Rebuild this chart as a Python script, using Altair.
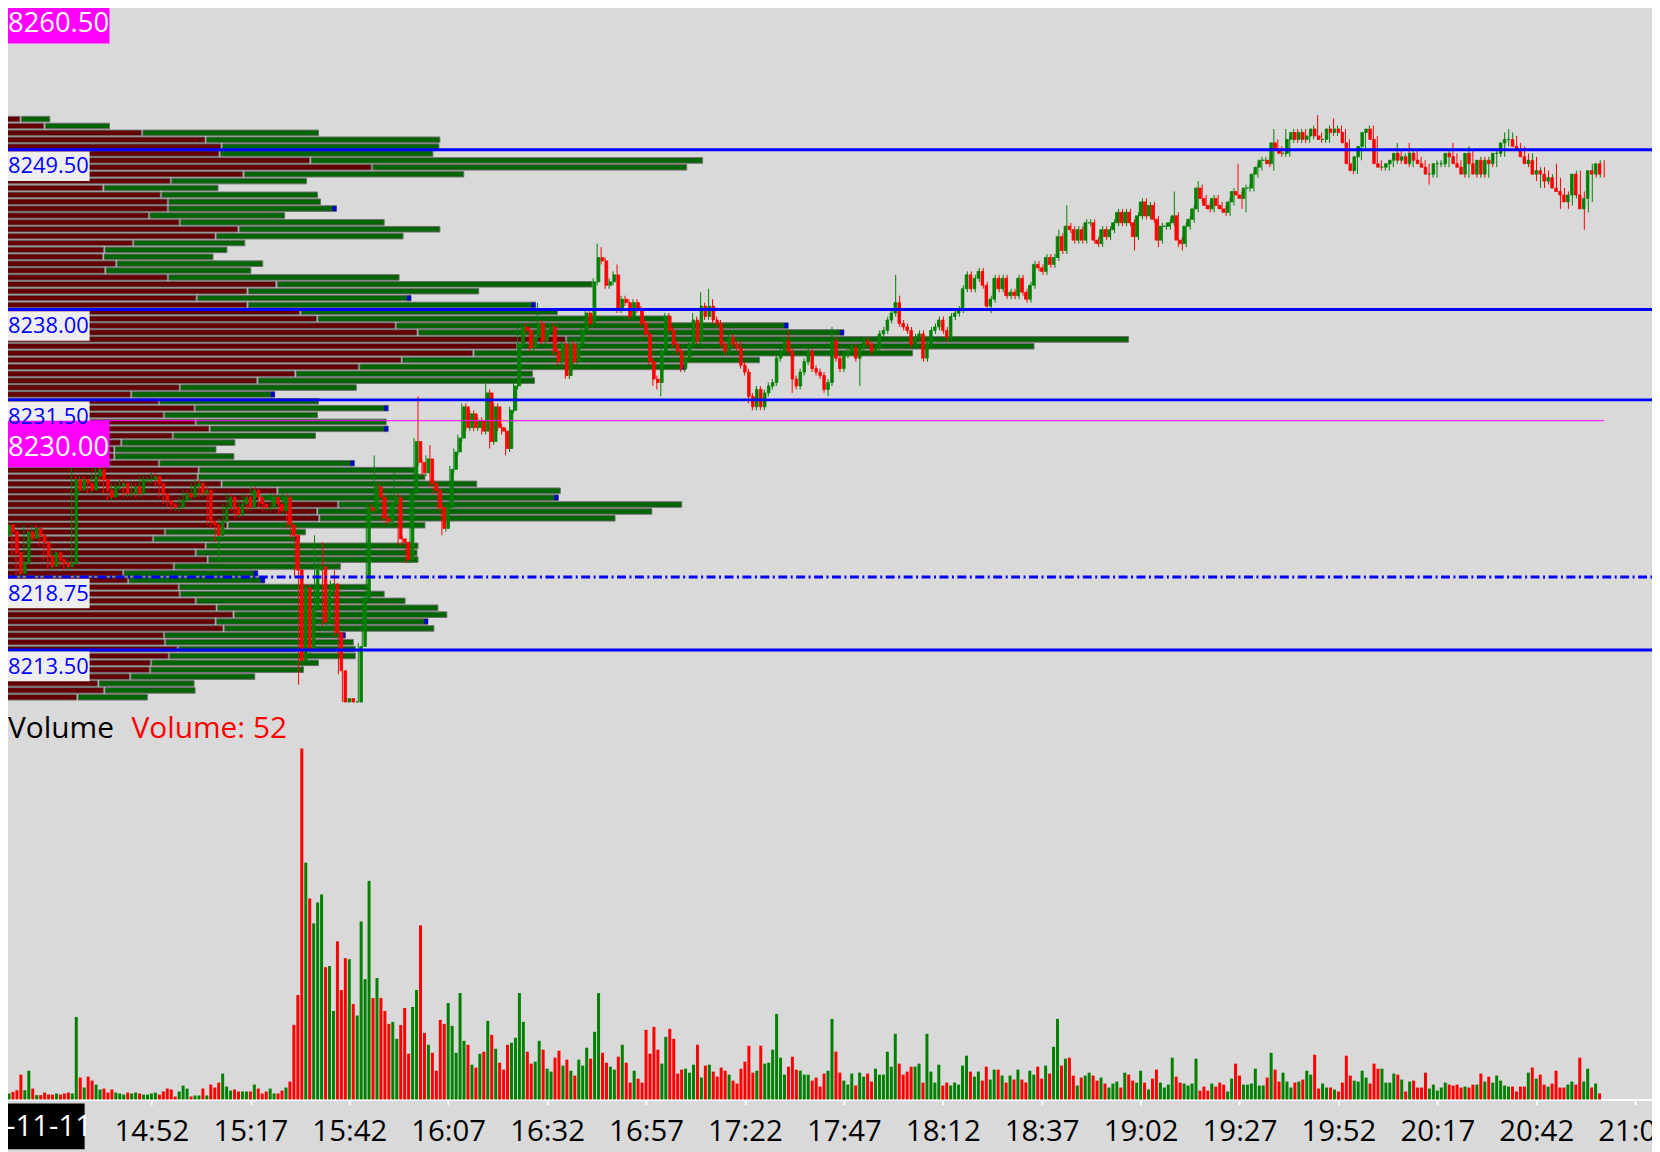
import altair as alt
import pandas as pd

# ---------------- data ----------------
FIRST_BAR_MIN = 856          # 14:16, one-minute bars
TICK = 0.25
OPEN0 = 8221.75

CLOSE = [
    8222.5, 8222.0, 8220.5, 8219.0, 8219.75, 8222.0, 8221.5, 8222.25, 8221.75, 8221.25,
    8220.25, 8219.5, 8220.5, 8220.0, 8219.75, 8219.5, 8219.75, 8225.75, 8225.0, 8225.75,
    8225.5, 8225.0, 8226.0, 8226.5, 8225.75, 8225.0, 8224.5, 8225.25, 8225.25, 8225.5,
    8224.75, 8224.75, 8225.25, 8224.75, 8225.75, 8225.75, 8225.75, 8226.0, 8225.5, 8224.75,
    8224.25, 8224.0, 8223.75, 8223.75, 8224.25, 8224.75, 8224.5, 8225.25, 8225.5, 8224.75,
    8225.0, 8222.75, 8222.5, 8221.75, 8222.75, 8223.75, 8224.5, 8223.75, 8223.25, 8224.0,
    8224.5, 8223.75, 8225.0, 8224.5, 8224.0, 8223.75, 8223.75, 8224.5, 8224.0, 8223.5,
    8224.5, 8222.5, 8221.75, 8219.25, 8212.75, 8218.0, 8213.5, 8216.5, 8219.25, 8219.5,
    8215.5, 8217.75, 8218.25, 8214.75, 8212.0, 8209.75, 8210.0, 8209.75, 8209.75, 8213.75,
    8217.25, 8223.75, 8223.5, 8225.25, 8224.5, 8223.0, 8222.75, 8224.0, 8224.5, 8221.5,
    8221.25, 8220.0, 8224.75, 8228.5, 8227.0, 8226.25, 8227.25, 8225.5, 8225.0, 8223.75,
    8222.25, 8223.75, 8226.5, 8227.75, 8228.75, 8231.0, 8229.5, 8230.5, 8229.5, 8230.0,
    8229.25, 8232.0, 8228.5, 8231.0, 8229.5, 8229.25, 8228.0, 8230.75, 8232.5, 8235.5,
    8236.75, 8236.5, 8235.25, 8236.0, 8237.0, 8235.75, 8236.5, 8236.75, 8235.0, 8234.25,
    8235.5, 8233.25, 8235.5, 8234.25, 8235.5, 8236.5, 8237.75, 8237.0, 8240.0, 8241.75,
    8241.5, 8239.75, 8240.0, 8240.5, 8238.0, 8238.75, 8238.5, 8237.5, 8238.5, 8238.0,
    8237.0, 8236.25, 8234.25, 8233.0, 8232.75, 8235.0, 8237.5, 8236.5, 8235.5, 8235.0,
    8233.75, 8234.5, 8235.5, 8237.25, 8235.75, 8238.25, 8237.5, 8238.25, 8237.25, 8237.0,
    8235.5, 8235.0, 8236.0, 8235.5, 8235.25, 8234.0, 8233.5, 8231.75, 8231.0, 8232.25,
    8231.0, 8232.0, 8232.5, 8232.75, 8234.5, 8235.0, 8235.75, 8235.0, 8233.0, 8232.5,
    8233.5, 8234.25, 8235.0, 8233.75, 8233.5, 8233.25, 8232.25, 8232.75, 8235.75, 8234.5,
    8233.75, 8234.75, 8235.0, 8235.25, 8234.5, 8235.25, 8235.75, 8235.5, 8235.0, 8235.25,
    8236.25, 8236.5, 8237.25, 8237.75, 8238.5, 8237.0, 8236.75, 8236.5, 8235.5, 8236.0,
    8236.25, 8234.5, 8235.5, 8236.5, 8236.75, 8237.25, 8236.5, 8236.0, 8237.5, 8237.75,
    8238.0, 8239.5, 8240.5, 8239.5, 8240.25, 8240.75, 8239.75, 8238.25, 8238.75, 8240.25,
    8239.5, 8240.25, 8239.0, 8239.25, 8239.0, 8240.25, 8239.25, 8238.75, 8239.75, 8241.25,
    8241.0, 8240.75, 8241.75, 8241.25, 8241.75, 8243.25, 8242.25, 8244.0, 8243.75, 8243.0,
    8243.75, 8243.0, 8244.25, 8244.25, 8243.0, 8242.75, 8243.75, 8243.25, 8243.75, 8244.25,
    8245.0, 8244.25, 8245.0, 8244.25, 8243.25, 8244.75, 8245.75, 8244.75, 8245.5, 8244.5,
    8243.0, 8244.0, 8244.0, 8244.25, 8244.75, 8243.0, 8242.75, 8244.0, 8244.5, 8245.25,
    8246.75, 8246.0, 8245.5, 8245.25, 8246.0, 8245.5, 8245.25, 8245.0, 8245.75, 8246.5,
    8246.25, 8246.0, 8246.75, 8246.75, 8247.75, 8248.25, 8248.75, 8248.75, 8248.5, 8250.0,
    8249.5, 8249.25, 8249.25, 8250.25, 8250.75, 8250.25, 8250.75, 8250.25, 8250.5, 8251.0,
    8250.5, 8250.25, 8250.25, 8251.0, 8250.75, 8251.0, 8250.75, 8250.0, 8248.5, 8248.0,
    8249.0, 8249.75, 8250.75, 8251.0, 8250.25, 8248.5, 8248.25, 8248.25, 8248.5, 8248.75,
    8249.25, 8248.75, 8249.0, 8248.5, 8249.25, 8248.75, 8248.5, 8248.25, 8247.75, 8247.75,
    8248.5, 8248.5, 8248.5, 8249.25, 8249.0, 8248.5, 8248.25, 8247.75, 8249.25, 8248.5,
    8247.75, 8248.75, 8247.75, 8248.75, 8248.5, 8249.25, 8249.25, 8250.0, 8250.25, 8250.25,
    8249.75, 8249.5, 8249.0, 8248.5, 8248.75, 8247.75, 8248.0, 8247.75, 8247.25, 8247.5,
    8246.75, 8246.5, 8246.25, 8245.75, 8246.25, 8247.75, 8246.25, 8245.25, 8246.0, 8248.0,
    8247.75, 8248.5, 8247.75,
]

UPPER_WICK_TICKS = [
    2,1,1,1,1,2,1,1,1,1, 1,1,1,1,1,1,1,4,1,1,
    1,1,1,1,1,1,1,1,1,1, 1,1,1,1,1,1,1,1,1,1,
    1,1,1,1,1,1,1,1,1,1, 1,1,1,1,1,1,1,1,1,1,
    1,1,1,1,1,1,1,1,1,1, 1,1,1,1,1,2,1,1,10,1,
    7,1,1,4,1,0,0,0,0,1, 1,1,1,9,1,1,1,3,7,1,
    1,1,1,1,13,1,1,4,1,1, 1,1,1,1,1,1,1,1,1,1,
    1,3,1,1,1,1,1,1,1,5, 1,1,1,1,6,1,1,1,1,1,
    1,1,1,1,1,1,1,1,1,4, 3,1,1,1,3,1,1,1,1,1,
    1,1,1,1,1,1,1,1,1,1, 1,1,1,2,1,4,1,5,2,1,
    1,1,1,1,1,2,1,1,1,1, 1,1,1,1,1,1,1,3,1,1,
    1,1,1,1,1,1,1,1,4,1, 1,1,1,1,1,1,1,1,1,1,
    1,1,1,1,8,2,1,1,1,1, 1,1,1,1,1,1,1,1,1,1,
    1,1,1,1,1,1,1,1,1,1, 1,1,1,1,1,1,1,1,1,1,
    1,1,1,1,1,2,1,6,1,1, 1,1,1,1,1,1,1,1,1,1,
    1,1,1,1,1,1,1,1,1,1, 1,1,1,1,7,1,1,1,1,1,
    2,1,1,1,1,1,1,1,1,1, 8,1,1,1,1,1,1,1,1,4,
    1,1,7,1,1,1,1,1,1,1, 4,1,1,1,3,1,1,1,1,1,
    1,1,1,1,1,1,1,1,1,1, 3,1,1,4,1,1,1,1,1,1,
    1,1,1,1,3,1,1,1,2,1, 1,1,1,1,1,1,1,3,3,2,
    1,1,1,1,2,1,1,1,1,1, 4,3,1,1,1,1,1,1,1,2,
    1,1,1,
]

LOWER_WICK_TICKS = [
    0,1,1,1,1,1,1,1,1,1, 1,1,1,1,1,1,1,1,1,1,
    1,1,1,1,1,1,1,1,1,1, 1,1,1,1,1,1,1,1,1,1,
    1,1,1,1,1,1,1,1,1,1, 1,1,1,2,8,1,1,1,1,1,
    1,1,1,1,1,1,1,1,1,1, 1,1,1,2,7,2,2,1,1,1,
    1,1,1,1,1,0,0,0,0,0, 1,1,1,1,1,1,1,1,1,2,
    1,1,1,1,1,1,1,1,1,1, 2,1,1,1,1,1,1,1,1,1,
    1,1,2,1,1,1,2,1,1,1, 1,1,1,1,1,1,1,1,1,1,
    1,1,1,1,1,1,1,1,1,1, 1,1,1,1,1,1,1,1,1,1,
    1,1,1,2,2,4,1,1,1,1, 1,1,1,1,1,1,1,1,1,1,
    1,1,1,1,1,1,1,2,1,1, 1,1,1,1,1,1,1,1,4,1,
    1,1,1,1,1,1,1,2,1,1, 1,1,1,1,1,8,1,1,1,1,
    1,1,1,1,1,1,1,1,1,1, 1,1,1,1,1,1,1,1,1,1,
    1,1,1,1,1,1,1,1,2,1, 1,1,1,1,1,1,1,1,1,1,
    1,1,1,1,1,1,1,1,1,1, 1,1,1,1,1,1,1,1,1,1,
    1,1,1,1,4,1,1,1,1,1, 2,1,1,1,1,2,2,1,1,1,
    1,1,1,1,1,1,1,1,1,1, 1,3,4,1,1,1,1,1,1,2,
    1,1,1,1,1,1,1,1,1,1, 1,1,1,1,1,1,1,1,1,1,
    1,1,1,1,1,1,1,1,1,1, 1,1,1,1,1,1,1,1,3,1,
    1,1,1,1,1,1,1,1,1,1, 1,1,1,1,1,1,1,1,1,1,
    1,1,2,1,3,2,4,4,1,1, 1,5,2,2,1,1,1,6,1,1,
    1,1,1,
]

VOLUME = [
    51, 65, 79, 212, 79, 246, 93, 37, 37, 59,
    42, 42, 51, 42, 51, 59, 51, 705, 187, 102,
    195, 161, 127, 85, 93, 59, 85, 59, 51, 42,
    59, 51, 59, 51, 42, 42, 51, 59, 42, 68,
    93, 85, 25, 68, 119, 93, 25, 34, 34, 93,
    34, 127, 102, 144, 221, 110, 76, 85, 68, 68,
    68, 68, 127, 93, 51, 68, 93, 51, 51, 76,
    102, 153, 637, 892, 2997, 2023, 1717, 1504, 1683, 1751,
    1130, 1139, 756, 1351, 935, 1207, 1198, 816, 717, 1521,
    1028, 1867, 867, 1037, 867, 756, 646, 663, 518, 637,
    782, 391, 790, 935, 1487, 569, 467, 399, 246, 680,
    646, 824, 629, 399, 909, 501, 467, 297, 272, 391,
    408, 671, 552, 433, 314, 255, 467, 484, 527, 909,
    663, 408, 306, 323, 501, 425, 263, 238, 357, 416,
    289, 340, 246, 204, 340, 289, 442, 348, 578, 909,
    399, 314, 280, 255, 365, 467, 314, 144, 246, 178,
    144, 595, 391, 620, 425, 306, 535, 603, 518, 221,
    255, 263, 229, 297, 467, 187, 289, 297, 238, 195,
    272, 246, 212, 161, 136, 263, 323, 459, 229, 246,
    459, 306, 314, 425, 731, 357, 212, 280, 365, 255,
    246, 212, 212, 161, 187, 110, 221, 246, 688, 408,
    229, 161, 127, 221, 119, 229, 195, 221, 153, 263,
    212, 212, 408, 280, 561, 306, 212, 238, 280, 280,
    306, 144, 561, 238, 144, 297, 119, 144, 119, 144,
    127, 289, 374, 238, 195, 238, 161, 280, 170, 255,
    255, 204, 144, 204, 170, 255, 170, 144, 246, 212,
    280, 178, 289, 221, 450, 688, 289, 348, 357, 204,
    119, 187, 204, 229, 204, 161, 187, 136, 102, 136,
    153, 102, 229, 212, 161, 144, 246, 144, 85, 178,
    255, 144, 102, 127, 357, 195, 144, 136, 119, 136,
    348, 76, 110, 76, 136, 110, 144, 127, 68, 178,
    306, 204, 127, 127, 136, 263, 119, 119, 187, 399,
    255, 153, 229, 153, 102, 144, 153, 170, 246, 212,
    382, 93, 136, 102, 102, 85, 68, 144, 374, 204,
    161, 153, 246, 187, 136, 306, 263, 263, 144, 144,
    221, 212, 170, 68, 153, 161, 102, 102, 229, 93,
    127, 76, 102, 144, 127, 119, 127, 102, 110, 102,
    127, 127, 221, 153, 195, 144, 204, 161, 119, 110,
    110, 68, 110, 110, 229, 272, 178, 212, 127, 110,
    136, 246, 102, 102, 127, 153, 127, 357, 153, 263,
    102, 136, 52,
]

# volume profile, one row per 0.5 point from the top price down
PROFILE_TOP = 8252.0
PROFILE_STEP = 0.5
PROFILE_SELL = [
    17, 41, 139, 203, 219, 217, 308, 370, 241, 168,
    100, 158, 165, 165, 146, 177, 236, 213, 130, 101,
    100, 113, 102, 165, 274, 245, 194, 245, 298, 315,
    394, 416, 565, 516, 472, 400, 357, 293, 255, 177,
    128, 156, 192, 161, 193, 207, 170, 118, 111, 111,
    156, 196, 195, 219, 275, 257, 336, 315, 317, 225,
    162, 150, 203, 193, 205, 171, 120, 125, 176, 177,
    193, 214, 231, 213, 221, 161, 162, 175, 166, 148,
    147, 127, 95, 101, 74,
]
PROFILE_BUY = [
    30, 66, 178, 236, 219, 215, 395, 317, 222, 137,
    116, 158, 154, 170, 137, 206, 203, 189, 113, 124,
    111, 148, 147, 233, 318, 233, 216, 290, 259, 356,
    395, 429, 566, 520, 442, 360, 329, 239, 279, 178,
    145, 161, 195, 155, 192, 180, 144, 115, 103, 121,
    197, 218, 229, 257, 285, 301, 346, 337, 298, 199,
    142, 148, 214, 223, 212, 168, 136, 138, 191, 206,
    211, 223, 215, 214, 212, 183, 190, 179, 188, 169,
    155, 126, 97, 92, 71,
]
PROFILE_MARKERS = [8245.5, 8239.0, 8238.5, 8237.0, 8236.5, 8234.0, 8232.0, 8231.0,
                   8229.5, 8227.0, 8224.5, 8221.5, 8219.0, 8218.5, 8215.5, 8214.5]

LEVELS = [8249.5, 8238.0, 8231.5, 8213.5]
DASH_LEVEL = 8218.75
REF_PRICE = 8230.0
HIGH_TAG = 8260.5
AXIS_TIMES = [892, 917, 942, 967, 992, 1017, 1042, 1067, 1092, 1117,
              1142, 1167, 1192, 1217, 1242, 1267]
DATE_TEXT = "-11-11"

n = len(CLOSE)
assert len(UPPER_WICK_TICKS) == n, len(UPPER_WICK_TICKS)
assert len(LOWER_WICK_TICKS) == n, len(LOWER_WICK_TICKS)
assert len(VOLUME) == n, len(VOLUME)
assert len(PROFILE_SELL) == len(PROFILE_BUY)

# ---------------- tables ----------------
opens = [OPEN0] + CLOSE[:-1]
bars = pd.DataFrame({
    "t": [FIRST_BAR_MIN + i for i in range(n)],
    "open": opens,
    "close": CLOSE,
    "high": [max(o, c) + u * TICK for o, c, u in zip(opens, CLOSE, UPPER_WICK_TICKS)],
    "low": [min(o, c) - d * TICK for o, c, d in zip(opens, CLOSE, LOWER_WICK_TICKS)],
    "volume": VOLUME,
    "dir": ["up" if c >= o else "down" for o, c in zip(opens, CLOSE)],
})

prof = pd.DataFrame({
    "price": [PROFILE_TOP - PROFILE_STEP * k for k in range(len(PROFILE_SELL))],
    "sell": PROFILE_SELL,
    "buy": PROFILE_BUY,
})
prof["s0"] = 0
prof["b0"] = prof["sell"] + 1.5
prof["b1"] = prof["sell"] + prof["buy"]
prof["m0"] = prof["b1"] - 4
prof["marker"] = prof["price"].isin(PROFILE_MARKERS)

level_labels = pd.DataFrame({
    "price": LEVELS + [DASH_LEVEL],
    "text": [f"{p:.2f}" for p in LEVELS + [DASH_LEVEL]],
})
tags = pd.DataFrame({"price": [HIGH_TAG, REF_PRICE],
                     "text": [f"{HIGH_TAG:.2f}", f"{REF_PRICE:.2f}"]})
ref_line = pd.DataFrame({"price": [REF_PRICE], "x0": [FIRST_BAR_MIN],
                         "x1": [FIRST_BAR_MIN + n - 1]})

# ---------------- scales ----------------
W, H = 1652, 1094
time_scale = alt.Scale(domain=[857, 1270], nice=False, zero=False)
price_scale = alt.Scale(domain=[8181.14, 8259.51], nice=False, zero=False)
vol_scale = alt.Scale(domain=[0, 9299], nice=False, zero=False)
prof_scale = alt.Scale(domain=[5, 1657], nice=False, zero=False)
dir_scale = alt.Scale(domain=["up", "down"], range=["#008000", "#ff0000"])
FONT = "Open Sans"

P = lambda f: alt.Y(f, scale=price_scale, axis=None)

sell_bars = alt.Chart(prof).mark_bar(
    orient="horizontal", size=5.6, fill="#650000", stroke="#6e6e6e", strokeWidth=1
).encode(x=alt.X("s0:Q", scale=prof_scale, axis=None), x2="sell:Q", y=P("price:Q"))

buy_bars = alt.Chart(prof).mark_bar(
    orient="horizontal", size=5.6, fill="#006400", stroke="#6e6e6e", strokeWidth=1
).encode(x=alt.X("b0:Q", scale=prof_scale, axis=None), x2="b1:Q", y=P("price:Q"))

markers = alt.Chart(prof).transform_filter("datum.marker").mark_bar(
    orient="horizontal", size=5, fill="#0000cc"
).encode(x=alt.X("m0:Q", scale=prof_scale, axis=None), x2="b1:Q", y=P("price:Q"))

vol_bars = alt.Chart(bars).mark_bar(size=3).encode(
    x=alt.X("t:Q", scale=time_scale, title=None, axis=alt.Axis(
        values=AXIS_TIMES,
        labelExpr="floor(datum.value/60) + ':' + (datum.value % 60 < 10 ? '0' : '') + (datum.value % 60)",
        grid=False, domainColor="white", domainWidth=2, tickColor="white",
        tickWidth=2, tickSize=5, labelColor="black", labelFont=FONT,
        labelFontSize=29.5, labelPadding=13, labelFlush=False, labelOverlap=False,
        labelBound=False)),
    y=alt.Y("volume:Q", scale=vol_scale, axis=None),
    color=alt.Color("dir:N", scale=dir_scale, legend=None),
)

wicks = alt.Chart(bars).mark_rule(strokeWidth=1).encode(
    x=alt.X("t:Q", scale=time_scale, axis=None),
    y=P("low:Q"), y2="high:Q",
    color=alt.Color("dir:N", scale=dir_scale, legend=None),
)
bodies = alt.Chart(bars).mark_bar(size=2.6, strokeWidth=0.8).encode(
    x=alt.X("t:Q", scale=time_scale, axis=None),
    y=P("open:Q"), y2="close:Q",
    color=alt.Color("dir:N", scale=dir_scale, legend=None),
    stroke=alt.Stroke("dir:N", scale=dir_scale, legend=None),
)

level_lines = alt.Chart(pd.DataFrame({"price": LEVELS})).mark_rule(
    color="#0000ff", strokeWidth=3
).encode(y=P("price:Q"), x=alt.value(0), x2=alt.value(W))

dash_line = alt.Chart(pd.DataFrame({"price": [DASH_LEVEL]})).mark_rule(
    color="#0000ff", strokeWidth=3, strokeDash=[9, 3.5, 2, 3.5]
).encode(y=P("price:Q"), x=alt.value(0), x2=alt.value(W))

magenta_line = alt.Chart(ref_line).mark_rule(color="#ff00ff", strokeWidth=1).encode(
    x=alt.X("x0:Q", scale=time_scale, axis=None), x2="x1:Q", y=P("price:Q"))

label_boxes = alt.Chart(level_labels).transform_calculate(
    top="datum.price - 0.12", bot="datum.price - 2.25"
).mark_rect(fill="#eeeeee").encode(
    x=alt.value(0), x2=alt.value(82), y=P("top:Q"), y2="bot:Q")
label_text = alt.Chart(level_labels).transform_calculate(
    mid="datum.price - 1.2"
).mark_text(align="left", baseline="middle", font=FONT, fontSize=22,
            color="#0000ff").encode(x=alt.value(0), y=P("mid:Q"), text="text:N")

tag_boxes = alt.Chart(tags).transform_calculate(
    bot="datum.price - 3.35"
).mark_rect(fill="#ff00ff").encode(
    x=alt.value(0), x2=alt.value(102), y=P("price:Q"), y2="bot:Q")
tag_text = alt.Chart(tags).transform_calculate(
    mid="datum.price - 1.95"
).mark_text(align="left", baseline="middle", font=FONT, fontSize=27.5,
            color="white").encode(x=alt.value(0), y=P("mid:Q"), text="text:N")

one = pd.DataFrame({"k": [0]})
vol_title = alt.Chart(one).mark_text(
    align="left", baseline="middle", font=FONT, fontSize=30, color="black", text="Volume"
).encode(x=alt.value(0), y=alt.value(722))
vol_value = alt.Chart(one).mark_text(
    align="left", baseline="middle", font=FONT, fontSize=30, color="#ff0000",
    text=f"Volume: {VOLUME[-1]}"
).encode(x=alt.value(124), y=alt.value(722))

date_box = alt.Chart(one).mark_rect(fill="black").encode(
    x=alt.value(0), x2=alt.value(77), y=alt.value(1098), y2=alt.value(1144))
date_text = alt.Chart(one).mark_text(
    align="left", baseline="middle", font=FONT, fontSize=29.5, color="white", text=DATE_TEXT
).encode(x=alt.value(-2), y=alt.value(1122))

chart = alt.layer(
    sell_bars, buy_bars, markers, vol_bars, wicks, bodies,
    level_lines, dash_line, magenta_line,
    label_boxes, tag_boxes, label_text, tag_text,
    vol_title, vol_value, date_box, date_text,
).resolve_scale(
    x="independent", y="independent"
).properties(
    width=W, height=H,
    padding={"left": 0, "top": 0, "right": 0, "bottom": 50},
    autosize=alt.AutoSizeParams(type="none"),
).configure(
    background="#d9d9d9"
).configure_view(
    strokeWidth=0
)

chart.save("out.html", embed_options={"renderer": "svg", "actions": False})
